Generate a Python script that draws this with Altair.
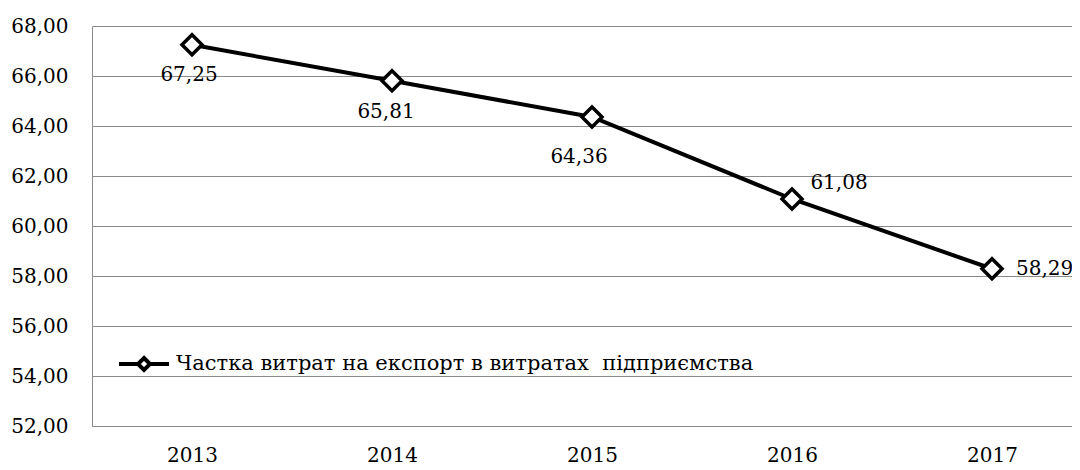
import altair as alt
import pandas as pd

years = [2013, 2014, 2015, 2016, 2017]
values = [67.25, 65.81, 64.36, 61.08, 58.29]
series_name = "Частка витрат на експорт в витратах\u00a0 підприємства"
y_ticks = [52, 54, 56, 58, 60, 62, 64, 66, 68]

df = pd.DataFrame({"year": years, "value": values, "series": [series_name] * len(years)})

FONT = "DejaVu Serif"
FS = 20
GRID = "#8a8a8a"
LEGEND_SYMBOL = "M-1,0H-0.24M0.24,0H1M0,-0.24L0.24,0L0,0.24L-0.24,0Z"

x = alt.X(
    "year:Q",
    scale=alt.Scale(domain=[2012.5, 2017.4], nice=False, zero=False),
    axis=alt.Axis(values=years, format="d", title=None, grid=False, ticks=False,
                  domainColor=GRID, domainWidth=1, labelFont=FONT, labelFontSize=FS,
                  labelColor="black", labelPadding=19, labelFlush=False),
)
y = alt.Y(
    "value:Q",
    scale=alt.Scale(domain=[52, 68], nice=False, zero=False),
    axis=alt.Axis(values=y_ticks, labelExpr="replace(format(datum.value, '.2f'), '.', ',')",
                  title=None, grid=True, gridColor=GRID, gridWidth=1, ticks=False,
                  domainColor=GRID, domainWidth=1, labelFont=FONT, labelFontSize=FS,
                  labelColor="black", labelPadding=24),
)

base = alt.Chart(df).encode(x=x, y=y)

line = base.mark_line(strokeWidth=4).encode(
    color=alt.Color(
        "series:N",
        scale=alt.Scale(range=["black"]),
        legend=alt.Legend(
            title=None, orient="none", legendX=25, legendY=311, padding=0,
            symbolType=LEGEND_SYMBOL, symbolSize=2500, symbolStrokeWidth=4,
            symbolFillColor="white", symbolStrokeColor="black",
            labelFont=FONT, labelFontSize=21, labelColor="black", labelLimit=0,
            labelOffset=5,
        ),
    )
)

points = base.mark_point(shape="diamond", size=400, filled=True, fill="white",
                         stroke="black", strokeWidth=3.5, opacity=1)

label_offsets = {
    2013: ("center", -3, 30),
    2014: ("center", -6, 31),
    2015: ("center", -13, 40),
    2016: ("center", 47, -16),
    2017: ("left", 24, 0),
}

labels = []
for yr, (al, dx, dy) in label_offsets.items():
    labels.append(
        base.transform_filter(alt.datum.year == yr)
        .transform_calculate(lbl="replace(format(datum.value, '.2f'), '.', ',')")
        .mark_text(font=FONT, fontSize=FS, color="black", align=al, baseline="middle", dx=dx, dy=dy)
        .encode(text="lbl:N")
    )

chart = alt.layer(line, points, *labels).properties(
    width=980,
    height=400,
    padding={"left": 84, "top": 18, "right": 0, "bottom": 44},
    autosize=alt.AutoSizeParams(type="none"),
    background="white",
).configure_view(stroke="transparent")

chart.save("out.html", embed_options={"renderer": "svg", "actions": False})
